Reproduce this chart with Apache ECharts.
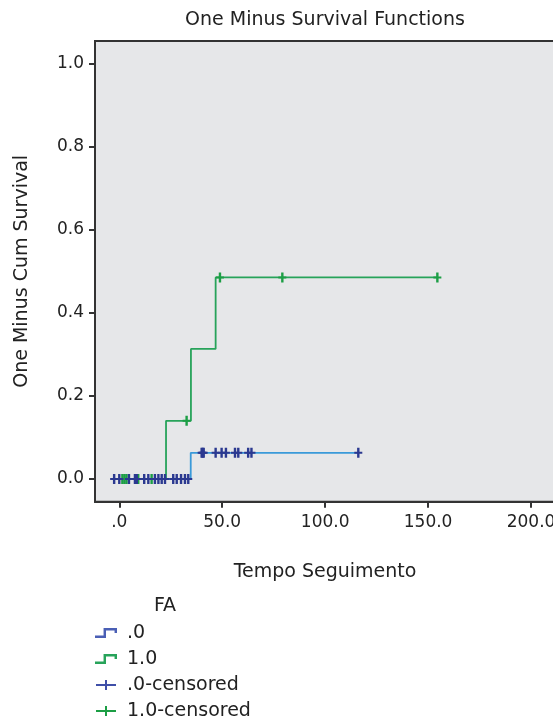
<!DOCTYPE html>
<html>
<head>
<meta charset="utf-8">
<script src="https://cdn.jsdelivr.net/npm/echarts@6/dist/echarts.min.js"></script>
<style>
  html, body { margin: 0; padding: 0; background: #ffffff; }
  #chart { width: 553px; height: 719px; }
</style>
</head>
<body>
<div id="chart"></div>
<script>
// Kaplan-Meier "one minus survival" step curves, grouped by FA
const xTicks = [0, 50, 100, 150, 200];
const yTicks = [0, 0.2, 0.4, 0.6, 0.8, 1.0];

// FA = .0 : event times and cumulative incidence after each step
const faZeroTimes  = [-2.5, 34.7, 116.1];
const faZeroLevels = [0, 0.063, 0.063];

// FA = 1.0
const faOneTimes  = [1.5, 22.7, 34.8, 46.8, 154.5];
const faOneLevels = [0, 0.14, 0.313, 0.485, 0.485];

// censored observations (time, curve level at that time)
const faZeroCensTimes  = [-2.5, 0, 4.7, 7.6, 8.5, 12.1, 14.1, 17.3, 19.0, 20.6, 22.2, 26.2, 27.9, 30.0, 31.9, 33.5,
                          40.0, 40.5, 41.0, 46.8, 49.7, 51.8, 56.2, 57.8, 62.6, 64.2, 116.1];
const faZeroCensLevels = [0, 0, 0, 0, 0, 0, 0, 0, 0, 0, 0, 0, 0, 0, 0, 0,
                          0.063, 0.063, 0.063, 0.063, 0.063, 0.063, 0.063, 0.063, 0.063, 0.063, 0.063];
const faOneCensTimes  = [1.5, 2.5, 3.5, 9.2, 15.7, 32.7, 48.9, 79.2, 154.5];
const faOneCensLevels = [0, 0, 0, 0, 0, 0.14, 0.485, 0.485, 0.485];

const zip = (xs, ys) => xs.map((x, i) => [x, ys[i]]);

const FONT = 'DejaVu Sans';
const TXT = '#222222';
const stepIcon = 'path://M0,8H7V2H18V6H16V4H9V10H0Z';
const plusIcon = 'path://M9,0H11V4H20V6H11V10H9V6H0V4H9Z';
const censMark = 'path://M-1.2,-5H1.2V-1H4V1H1.2V5H-1.2V1H-4V-1H-1.2Z';

const chart = echarts.init(document.getElementById('chart'), null, { renderer: 'canvas' });

chart.setOption({
  animation: false,
  backgroundColor: '#ffffff',
  textStyle: { fontFamily: FONT, color: TXT },
  graphic: [
    {
      type: 'text', x: 325, y: 20,
      style: { text: 'One Minus Survival Functions', textAlign: 'center', textVerticalAlign: 'middle',
               font: '19px "' + FONT + '"', fill: TXT }
    },
    {
      type: 'text', x: 165, y: 606,
      style: { text: 'FA', textAlign: 'center', textVerticalAlign: 'middle',
               font: '19px "' + FONT + '"', fill: TXT }
    }
  ],
  grid: {
    left: 95, top: 41, width: 470, height: 460.7,
    outerBoundsMode: 'none',
    show: true, backgroundColor: '#e6e7e9', borderColor: '#333333', borderWidth: 2
  },
  xAxis: {
    type: 'value', min: -11.8, max: 216.5,
    name: 'Tempo Seguimento', nameLocation: 'middle', nameGap: 61,
    nameTextStyle: { fontSize: 19, color: TXT, fontFamily: FONT, padding: [0, 10, 0, 0] },
    axisLine: { show: true, onZero: false, lineStyle: { color: '#333333', width: 2 } },
    axisTick: { show: true, length: 6, lineStyle: { color: '#333333', width: 2 }, customValues: xTicks },
    axisLabel: {
      customValues: xTicks, margin: 12, fontSize: 17, color: TXT, fontFamily: FONT,
      formatter: v => (v === 0 ? '.0' : v.toFixed(1))
    },
    splitLine: { show: false }
  },
  yAxis: {
    type: 'value', min: -0.0546, max: 1.0536,
    name: 'One Minus Cum Survival', nameLocation: 'middle', nameGap: 63,
    nameTextStyle: { fontSize: 19, color: TXT, fontFamily: FONT },
    axisLine: { show: true, onZero: false, lineStyle: { color: '#333333', width: 2 } },
    axisTick: { show: true, length: 6, lineStyle: { color: '#333333', width: 2 }, customValues: yTicks },
    axisLabel: {
      customValues: yTicks, margin: 11, fontSize: 17, color: TXT, fontFamily: FONT,
      formatter: v => v.toFixed(1)
    },
    splitLine: { show: false }
  },
  legend: {
    orient: 'vertical', left: 95, top: 623, height: 130, padding: 0,
    itemWidth: 22, itemHeight: 10, itemGap: 6,
    textStyle: { fontSize: 19, lineHeight: 20, color: TXT, fontFamily: FONT, padding: [0, 0, 0, 5] },
    data: [
      { name: '.0', icon: stepIcon, itemStyle: { color: '#4a5fb5' } },
      { name: '1.0', icon: stepIcon, itemStyle: { color: '#27a35a' } },
      { name: '.0-censored', icon: plusIcon, itemStyle: { color: '#3f4fa8' } },
      { name: '1.0-censored', icon: plusIcon, itemStyle: { color: '#1c9e45' } }
    ]
  },
  series: [
    {
      name: '.0', type: 'line', step: 'end', showSymbol: false, symbol: 'none',
      data: zip(faZeroTimes, faZeroLevels),
      itemStyle: { color: '#4a5fb5' },
      lineStyle: { color: '#3a9ad9', width: 1.8 },
      z: 2
    },
    {
      name: '1.0', type: 'line', step: 'end', showSymbol: false, symbol: 'none',
      data: zip(faOneTimes, faOneLevels),
      itemStyle: { color: '#27a35a' },
      lineStyle: { color: '#27a35a', width: 1.8 },
      z: 2
    },
    {
      name: '1.0-censored', type: 'scatter', symbol: censMark, symbolSize: [8, 10],
      data: zip(faOneCensTimes, faOneCensLevels),
      itemStyle: { color: '#1c9e45', opacity: 1 },
      z: 3
    },
    {
      name: '.0-censored', type: 'scatter', symbol: censMark, symbolSize: [8, 10],
      data: zip(faZeroCensTimes, faZeroCensLevels),
      itemStyle: { color: '#2b3990', opacity: 1 },
      z: 4
    }
  ]
});
</script>
</body>
</html>
